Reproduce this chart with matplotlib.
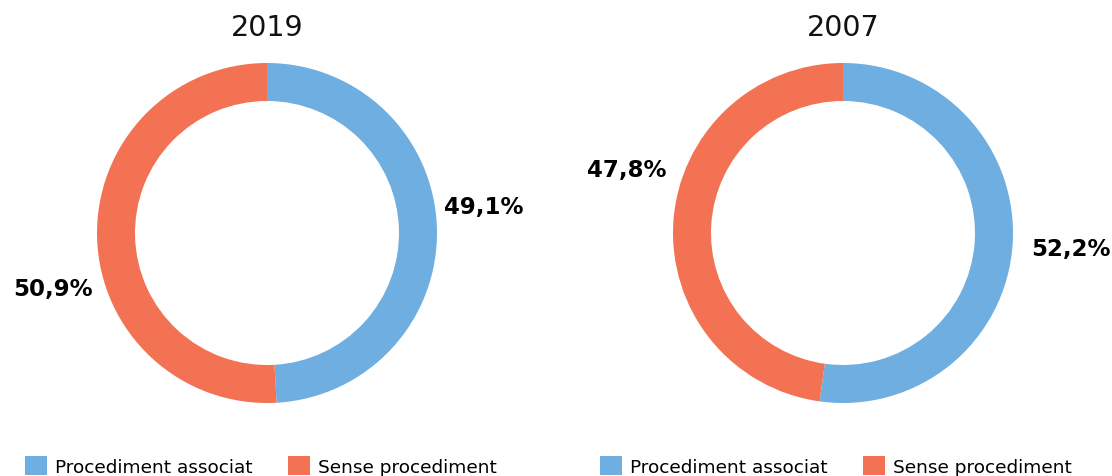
import matplotlib
matplotlib.use('Agg')
import matplotlib.pyplot as plt
from matplotlib.patches import Patch

# data
years = ['2019', '2007']
categories = ['Procediment associat', 'Sense procediment']
shares = [[49.1, 50.9], [52.2, 47.8]]
colors = ['#6FAEE0', '#F47254']

W, H = 1112, 477
DPI = 100

# layout in pixels (centre x, centre y from top, radius)
centres = [(267, 234), (843, 234)]
R = 170
ring = 38 / R
# label offsets in radius units (x, y up), one pair per slice
label_pos = [[(1.276, 0.153), (-1.259, -0.324)],
             [(1.341, -0.094), (-1.271, 0.376)]]
legend_left = [25, 600]


def fmt(v):
  return ('%.1f%%' % v).replace('.', ',')


def main():
  plt.rcParams['font.family'] = 'DejaVu Sans'
  fig = plt.figure(figsize=(W / DPI, H / DPI), dpi=DPI)

  for i, year in enumerate(years):
    cx, cy = centres[i]
    ax = fig.add_axes([(cx - R) / W, (H - cy - R) / H, 2 * R / W, 2 * R / H])
    ax.pie(shares[i], colors=colors, startangle=90, counterclock=False,
           radius=1, wedgeprops=dict(width=ring, linewidth=0))
    ax.set_xlim(-1, 1)
    ax.set_ylim(-1, 1)
    ax.set_aspect('equal')
    ax.axis('off')

    for v, (lx, ly) in zip(shares[i], label_pos[i]):
      ax.text(lx, ly, fmt(v), ha='center', va='center', fontsize=16.5,
              fontweight='bold', color='black', clip_on=False)

    fig.text(cx / W, 1 - 28 / H, year, ha='center', va='center',
             fontsize=20.5, color='#111111')

    handles = [Patch(facecolor=c, edgecolor='none') for c in colors]
    fig.legend(handles, categories, loc='lower left',
               bbox_to_anchor=(legend_left[i] / W, 0.0), ncol=2,
               frameon=False, fontsize=13.3, handlelength=1.2,
               handleheight=1.2, handletextpad=0.4, columnspacing=1.95,
               borderpad=0, borderaxespad=0)

  fig.savefig('out.png', dpi=DPI, facecolor='white')


if __name__ == '__main__':
  main()
